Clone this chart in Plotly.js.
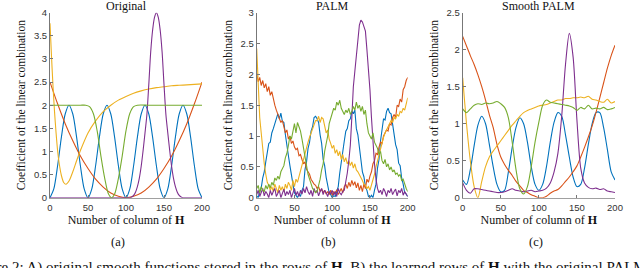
<!DOCTYPE html>
<html><head><meta charset="utf-8">
<script src="https://cdn.plot.ly/plotly-3.0.1.min.js"></script>
<style>html,body{margin:0;padding:0;background:#fff;overflow:hidden}#chart{width:640px;height:268px}</style>
</head><body><div id="chart"></div>
<script>
// ---------- data ----------
const xTicks = [0, 50, 100, 150, 200];
const panelTitles = ['Original', 'PALM', 'Smooth PALM'];
const panelLetters = ['(a)', '(b)', '(c)'];
const yTitle = 'Coefficient of the linear combination';
const xTitle = 'Number of column of <b>H</b>';
const caption = 'Figure 2: A) original smooth functions stored in the rows of <b>H</b>. B) the learned rows of <b>H</b> with the original PALM algorithm';

// (a) Original
const origBlueX = [0,5,10,15,20,25,30,35,40,45,50,55,60,65,70,75,80,85,90,95,100,105,110,115,120,125,130,135,140,145,150,155,160,165,170,175,180,185,190,195,200];
const origBlue = [0,0.19,0.69,1.31,1.81,2,1.81,1.31,0.69,0.19, 0,0.19,0.69,1.31,1.81,2,1.81,1.31,0.69,0.19, 0,0.19,0.69,1.31,1.81,2,1.81,1.31,0.69,0.19, 0,0.19,0.69,1.31,1.81,2,1.81,1.31,0.69,0.19, 0];
const origOrangeX = [0,10,20,30,40,50,60,70,80,90,100,110,120,130,140,150,160,170,180,190,200];
const origOrange = [2.5,2.03,1.6,1.23,0.9,0.63,0.4,0.23,0.1,0.03,0,0.03,0.1,0.23,0.4,0.63,0.9,1.23,1.6,2.03,2.5];
const origYellowX = [0,2,4,6,8,10,12,15,18,21,25,30,35,40,50,60,70,80,90,100,110,120,130,140,150,160,170,180,190,200];
const origYellow = [3.77,3.05,2.4,1.85,1.4,1.02,0.75,0.48,0.33,0.29,0.36,0.56,0.8,1.02,1.4,1.66,1.86,2.0,2.11,2.19,2.26,2.31,2.35,2.38,2.4,2.42,2.43,2.44,2.45,2.46];
const origPurpleX = [0,50,100,105,107.5,110,112.5,115,117.5,120,122.5,125,127.5,130,132.5,135,137.5,140,142.5,145,147.5,150,152.5,155,157.5,160,162.5,165,167.5,170,172.5,175,200];
const origPurple = [0,0,0,0,0.015,0.05,0.12,0.24,0.42,0.68,1.02,1.4,1.8,2.45,3.15,3.62,3.9,4.0,3.9,3.62,3.15,2.45,1.8,1.4,1.02,0.68,0.42,0.24,0.12,0.05,0.015,0,0];
const origGreenX = [0,10,20,30,40,47,52,57,62,67,72,77,81,85,90,95,100,105,110,115,130,150,170,200];
const origGreen = [2,2,2,2,2,2,1.97,1.82,1.45,0.9,0.42,0.08,0,0.08,0.42,0.9,1.45,1.82,1.97,2,2,2,2,2];

// (b) PALM
const palmX = [0,2,4,6,8,10,12,14,16,18,20,22,24,26,28,30,32,34,36,38,40,42,44,46,48,50,52,54,56,58,60,62,64,66,68,70,72,74,76,78,80,82,84,86,88,90,92,94,96,98,100,102,104,106,108,110,112,114,116,118,120,122,124,126,128,130,132,134,136,138,140,142,144,146,148,150,152,154,156,158,160,162,164,166,168,170,172,174,176,178,180,182,184,186,188,190,192,194,196,198,200];
const palmBlue = [0.03,0.0,0.1,0.16,0.32,0.42,0.58,0.72,0.88,0.9,
  1.05,1.12,1.2,1.32,1.36,1.28,1.37,1.24,1.22,1.02,
  0.88,0.68,0.52,0.34,0.22,0.08,0.04,0.0,0.06,0.02,
  0.12,0.18,0.46,0.58,0.8,0.9,1.08,1.15,1.3,1.32,
  1.28,1.22,1.02,0.88,0.62,0.52,0.33,0.22,0.08,0.05,
  0.0,0.03,0.02,0.1,0.18,0.4,0.58,0.82,0.92,1.08,
  1.12,1.25,1.28,1.4,1.36,1.42,1.12,1.02,0.78,0.62,
  0.42,0.34,0.18,0.12,0.02,0.0,0.04,0.0,0.12,0.22,
  0.48,0.62,0.92,1.08,1.28,1.26,1.4,1.45,1.38,1.36,
  1.18,1.08,0.86,0.78,0.56,0.52,0.32,0.22,0.08,0.06,
  0.02];
const palmOrange = [2.02,1.88,1.95,1.82,1.9,1.78,1.85,1.72,1.8,1.66,
  1.72,1.58,1.5,1.42,1.36,1.3,1.22,1.25,1.12,1.05,
  1.1,0.95,1.0,0.88,0.92,0.82,0.78,0.8,0.68,0.7,
  0.62,0.55,0.58,0.46,0.42,0.38,0.3,0.25,0.22,0.2,
  0.15,0.18,0.1,0.14,0.08,0.12,0.06,0.1,0.05,0.12,
  0.04,0.1,0.06,0.13,0.05,0.1,0.15,0.08,0.18,0.22,
  0.15,0.25,0.18,0.28,0.2,0.26,0.16,0.24,0.12,0.2,
  0.1,0.22,0.15,0.3,0.25,0.35,0.42,0.55,0.6,0.72,
  0.7,0.82,0.9,0.88,1.0,1.05,1.1,1.08,1.2,1.18,
  1.3,1.35,1.3,1.5,1.48,1.6,1.55,1.75,1.8,1.9,
  1.95];
const palmYellow = [2.42,1.9,1.3,1.05,0.75,0.55,0.38,0.25,0.2,0.12,
  0.18,0.1,0.22,0.15,0.08,0.2,0.12,0.18,0.1,0.22,
  0.15,0.25,0.2,0.12,0.28,0.18,0.3,0.25,0.35,0.42,
  0.5,0.62,0.72,0.8,0.9,0.98,1.05,1.12,1.2,1.25,
  1.25,1.32,1.22,1.3,1.28,1.15,1.05,1.1,0.95,0.88,
  0.8,0.85,0.72,0.78,0.68,0.75,0.62,0.7,0.58,0.65,
  0.55,0.6,0.52,0.58,0.48,0.55,0.45,0.42,0.38,0.32,
  0.28,0.22,0.2,0.15,0.18,0.12,0.2,0.3,0.38,0.5,
  0.6,0.7,0.82,0.9,0.98,1.05,1.1,1.15,1.2,1.25,
  1.22,1.3,1.28,1.35,1.32,1.4,1.38,1.45,1.42,1.5,
  1.62];
const palmPurple = [0.05,0.12,0.02,0.08,0.15,0.03,0.1,0.06,0.0,0.12,
  0.04,0.1,0.15,0.02,0.08,0.12,0.0,0.06,0.14,0.03,
  0.1,0.05,0.12,0.0,0.08,0.15,0.04,0.1,0.02,0.12,
  0.06,0.15,0.08,0.18,0.1,0.05,0.12,0.02,0.15,0.08,
  0.12,0.03,0.1,0.15,0.05,0.12,0.08,0.02,0.1,0.06,
  0.12,0.04,0.1,0.02,0.15,0.08,0.05,0.1,0.12,0.25,
  0.4,0.6,0.85,1.3,1.8,2.05,2.35,2.55,2.8,2.88,
  2.85,2.78,2.7,2.4,2.1,1.75,1.3,0.9,0.55,0.3,
  0.15,0.08,0.12,0.05,0.15,0.1,0.02,0.12,0.08,0.15,
  0.05,0.1,0.14,0.03,0.12,0.08,0.15,0.04,0.1,0.06,
  0.02];
const palmGreen = [0.15,0.2,0.08,0.18,0.12,0.1,0.2,0.14,0.22,0.16,
  0.25,0.2,0.32,0.28,0.35,0.3,0.42,0.48,0.52,0.65,
  0.72,0.85,1.0,0.95,1.1,1.2,1.05,1.22,1.15,1.08,
  0.95,0.8,0.65,0.5,0.38,0.3,0.22,0.15,0.12,0.08,
  0.1,0.18,0.3,0.45,0.55,0.75,0.85,1.0,1.2,1.3,
  1.35,1.45,1.42,1.55,1.5,1.58,1.45,1.4,1.35,1.42,
  1.38,1.45,1.35,1.4,1.48,1.42,1.55,1.45,1.5,1.4,
  1.48,1.35,1.42,1.2,1.05,1.0,0.95,1.05,0.9,0.85,
  0.8,0.7,0.75,0.6,0.55,0.62,0.5,0.55,0.45,0.5,
  0.42,0.45,0.38,0.4,0.35,0.38,0.28,0.3,0.2,0.15,
  0.1];

// (c) Smooth PALM
const smoothX = [0,5,10,15,20,25,30,35,40,45,50,55,60,65,70,75,80,85,90,95,100,105,110,115,120,125,130,135,140,145,150,155,160,165,170,175,180,185,190,195,200];
const smoothBlue = [0.24,0.18,0.38,0.7,0.98,1.1,1.0,0.72,0.42,0.18, 0.08,0.1,0.35,0.68,0.95,1.08,1.0,0.75,0.42,0.18, 0.1,0.18,0.42,0.75,1.02,1.15,1.1,0.85,0.55,0.28, 0.15,0.18,0.4,0.72,1.0,1.15,1.15,0.95,0.65,0.35, 0.24];
const smoothOrange = [2.18,2.05,1.92,1.8,1.66,1.5,1.32,1.12,0.95,0.72, 0.55,0.45,0.37,0.3,0.22,0.16,0.1,0.07,0.04,0.02, 0.0,0.0,0.02,0.06,0.09,0.11,0.16,0.22,0.28,0.35, 0.43,0.55,0.68,0.82,0.97,1.15,1.35,1.55,1.75,1.92, 2.06];
const smoothYellow = [1.62,1.0,0.5,0.15,0.0,0.22,0.42,0.55,0.63,0.7, 0.77,0.84,0.91,0.98,1.04,1.1,1.15,1.18,1.2,1.22, 1.24,1.25,1.26,1.28,1.3,1.32,1.32,1.34,1.34,1.35, 1.35,1.36,1.35,1.37,1.33,1.32,1.3,1.29,1.33,1.28, 1.3];
const smoothPurple = [0.2,0.1,0.06,0.12,0.12,0.11,0.1,0.09,0.08,0.07, 0.07,0.08,0.1,0.12,0.1,0.09,0.08,0.09,0.1,0.08, 0.09,0.1,0.13,0.2,0.35,0.6,1.1,1.8,2.22,1.9, 1.05,0.4,0.2,0.14,0.12,0.13,0.11,0.12,0.09,0.08, 0.07];
const smoothGreen = [1.2,1.15,1.2,1.25,1.27,1.26,1.28,1.27,1.28,1.3, 1.27,1.22,1.08,0.75,0.38,0.12,0.05,0.15,0.42,0.75, 1.02,1.25,1.32,1.29,1.28,1.27,1.26,1.25,1.24,1.22, 1.18,1.22,1.2,1.25,1.2,1.21,1.2,1.22,1.19,1.2, 1.22];

const yRanges = [[0, 4], [0, 3], [0, 2.5]];

// ---------- styling ----------
const C = {blue:'#0072BD', orange:'#D95319', yellow:'#EDB120', purple:'#7E2F8E', green:'#77AC30'};
const serif = '"Liberation Serif", "Times New Roman", serif';
const sans = '"Liberation Sans", Arial, Helvetica, sans-serif';
const W = 640, H = 268;
const xDom = [[50/W, 202/W], [256.7/W, 407.7/W], [462.7/W, 615/W]];
const yDom = [1 - 197.7/H, 1 - 12.7/H];

function tr(x, y, color, k, shape) {
  return {x: x, y: y, type: 'scatter', mode: 'lines',
    xaxis: k === 0 ? 'x' : 'x' + (k + 1), yaxis: k === 0 ? 'y' : 'y' + (k + 1),
    line: {color: color, width: 1.1, shape: shape, smoothing: 0.8},
    hoverinfo: 'skip', showlegend: false};
}
const data = [
  tr(origBlueX, origBlue, C.blue, 0, 'spline'),
  tr(origOrangeX, origOrange, C.orange, 0, 'spline'),
  tr(origYellowX, origYellow, C.yellow, 0, 'spline'),
  tr(origPurpleX, origPurple, C.purple, 0, 'spline'),
  tr(origGreenX, origGreen, C.green, 0, 'spline'),
  tr(palmX, palmBlue, C.blue, 1, 'linear'),
  tr(palmX, palmOrange, C.orange, 1, 'linear'),
  tr(palmX, palmYellow, C.yellow, 1, 'linear'),
  tr(palmX, palmPurple, C.purple, 1, 'linear'),
  tr(palmX, palmGreen, C.green, 1, 'linear'),
  tr(smoothX, smoothBlue, C.blue, 2, 'spline'),
  tr(smoothX, smoothOrange, C.orange, 2, 'spline'),
  tr(smoothX, smoothYellow, C.yellow, 2, 'spline'),
  tr(smoothX, smoothPurple, C.purple, 2, 'spline'),
  tr(smoothX, smoothGreen, C.green, 2, 'spline')
];

const layout = {width: W, height: H, margin: {l:0, r:0, t:0, b:0, pad:0},
  paper_bgcolor: '#fff', plot_bgcolor: '#fff', annotations: []};
for (let k = 0; k < 3; k++) {
  const sx = k === 0 ? '' : String(k + 1);
  layout['xaxis' + sx] = {domain: xDom[k], anchor: 'y' + sx, range: [0, 200],
    tickvals: xTicks, ticks: 'inside', ticklen: 3, tickcolor: '#777', tickwidth: 1,
    showline: true, linecolor: '#a0a0a0', linewidth: 1.5, showgrid: false, zeroline: false,
    tickfont: {family: sans, size: 9.5, color: '#333'}, fixedrange: true,
    title: {text: xTitle, font: {family: serif, size: 12, color: '#111'}, standoff: 2}};
  layout['yaxis' + sx] = {domain: yDom, anchor: 'x' + sx, range: yRanges[k], dtick: 0.5,
    ticks: 'inside', ticklen: 3, tickcolor: '#777', tickwidth: 1,
    showline: true, linecolor: '#777', linewidth: 1, showgrid: false, zeroline: false,
    tickfont: {family: sans, size: 9.5, color: '#333'}, fixedrange: true,
    title: {text: yTitle, font: {family: serif, size: 11.5, color: '#111'}, standoff: 5}};
  const cx = (xDom[k][0] + xDom[k][1]) / 2;
  layout.annotations.push({text: panelTitles[k], xref: 'paper', yref: 'paper', x: cx, y: 1 - 5.5/H,
    xanchor: 'center', yanchor: 'middle', showarrow: false, font: {family: serif, size: 12, color: '#111'}});
}
const letterX = [118, 328, 536];
for (let k = 0; k < 3; k++) {
  layout.annotations.push({text: panelLetters[k], xref: 'paper', yref: 'paper', x: letterX[k]/W, y: 1 - 242/H,
    xanchor: 'center', yanchor: 'middle', showarrow: false, font: {family: serif, size: 12.5, color: '#111'}});
}
layout.annotations.push({text: caption, xref: 'paper', yref: 'paper', x: -33/W, y: 1 - 267/H,
  xanchor: 'left', yanchor: 'middle', showarrow: false, font: {family: serif, size: 15, color: '#111'}});

Plotly.newPlot('chart', data, layout, {displayModeBar: false, staticPlot: true});
</script></body></html>
